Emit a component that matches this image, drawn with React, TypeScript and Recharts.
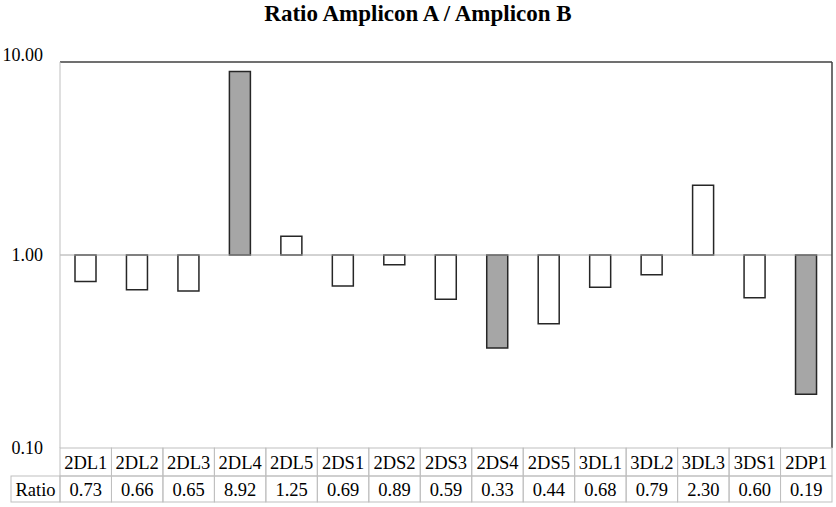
import React from 'react';
import {
  BarChart,
  Bar,
  XAxis,
  YAxis,
  Cell,
  ReferenceLine,
} from 'recharts';

const categories = [
  '2DL1', '2DL2', '2DL3', '2DL4', '2DL5', '2DS1', '2DS2', '2DS3',
  '2DS4', '2DS5', '3DL1', '3DL2', '3DL3', '3DS1', '2DP1',
];
const ratios = [
  0.73, 0.66, 0.65, 8.92, 1.25, 0.69, 0.89, 0.59,
  0.33, 0.44, 0.68, 0.79, 2.3, 0.6, 0.19,
];
const highlighted = ['2DL4', '2DS4', '2DP1'];
const yTicks = [0.1, 1, 10];

const data = categories.map((name, i) => ({ name, ratio: ratios[i] }));

const W = 836;
const H = 507;
const MARGIN = { top: 62, right: 3, left: 0, bottom: 5 };
const Y_AXIS_W = 60;
const Y_RIGHT_W = 1;
const X_AXIS_H = 54;
const FONT = 'Liberation Serif, serif';
const GRID = '#BFBFBF';
const DARK = '#404040';
const TEXT_SIZE = 18.5;

const cellW =
  (W - MARGIN.left - MARGIN.right - Y_AXIS_W - Y_RIGHT_W) / categories.length;
const ROW1 = 28;
const ROW2 = 26;
const LABEL_W = 49;

function TableTick(props: any) {
  const { x, y, payload, index } = props;
  const left = x - cellW / 2;
  const ratio = ratios[index];
  return (
    <g>
      <rect x={left} y={y} width={cellW} height={ROW1} fill="none" stroke={GRID} />
      <rect x={left} y={y + ROW1} width={cellW} height={ROW2} fill="none" stroke={GRID} />
      <text
        x={x}
        y={y + ROW1 / 2 + 1}
        textAnchor="middle"
        dominantBaseline="central"
        style={{ fontFamily: FONT }}
        fontSize={TEXT_SIZE}
        fill="#000"
      >
        {payload.value}
      </text>
      <text
        x={x}
        y={y + ROW1 + ROW2 / 2 + 1}
        textAnchor="middle"
        dominantBaseline="central"
        style={{ fontFamily: FONT }}
        fontSize={TEXT_SIZE}
        fill="#000"
      >
        {ratio.toFixed(2)}
      </text>
      {index === 0 && (
        <g>
          <rect x={left - LABEL_W} y={y + ROW1} width={LABEL_W} height={ROW2} fill="none" stroke={GRID} />
          <text
            x={left - LABEL_W / 2}
            y={y + ROW1 + ROW2 / 2 + 1}
            textAnchor="middle"
            dominantBaseline="central"
            style={{ fontFamily: FONT }}
            fontSize={TEXT_SIZE}
            fill="#000"
          >
            Ratio
          </text>
        </g>
      )}
    </g>
  );
}

// excel nudges the top label up so it stays inside the chart area
function YTick(props: any) {
  const { x, y, payload } = props;
  const nudge = payload.value >= 10 ? -7 : 0;
  return (
    <text
      x={x}
      y={y + nudge}
      textAnchor="end"
      dominantBaseline="central"
      style={{ fontFamily: FONT }}
      fontSize={18}
      fill="#000"
    >
      {Number(payload.value).toFixed(2)}
    </text>
  );
}

export default function App() {
  return (
    <div style={{ position: 'absolute', left: 0, top: 0, width: W, height: H, background: '#fff', fontFamily: FONT }}>
      <div
        style={{
          position: 'absolute',
          top: 1,
          left: 0,
          width: W,
          textAlign: 'center',
          fontFamily: FONT,
          fontWeight: 'bold',
          fontSize: 23,
          lineHeight: '26px',
          color: '#000',
        }}
      >
        Ratio Amplicon A / Amplicon B
      </div>
      <BarChart width={W} height={H} data={data} margin={MARGIN} barSize={21} style={{ fontFamily: FONT }}>
        <XAxis
          dataKey="name"
          interval={0}
          height={X_AXIS_H}
          axisLine={false}
          tickLine={false}
          tickSize={0}
          tickMargin={0}
          tick={<TableTick />}
        />
        <YAxis
          yAxisId="left"
          scale="log"
          domain={[0.1, 10]}
          ticks={yTicks}
          allowDataOverflow
          width={Y_AXIS_W}
          tickLine={false}
          tickSize={0}
          tickMargin={17}
          axisLine={{ stroke: GRID }}
          tick={<YTick />}
        />
        <YAxis
          yAxisId="right"
          orientation="right"
          scale="log"
          domain={[0.1, 10]}
          allowDataOverflow
          width={Y_RIGHT_W}
          tick={false}
          tickLine={false}
          axisLine={{ stroke: DARK, strokeWidth: 1.5 }}
        />
        <ReferenceLine yAxisId="left" y={10} stroke={DARK} strokeWidth={1.5} />
        <ReferenceLine yAxisId="left" y={1} stroke="#A6A6A6" />
        <Bar
          yAxisId="left"
          dataKey={(d: any) => [Math.min(1, d.ratio), Math.max(1, d.ratio)]}
          stroke="#262626"
          strokeWidth={1.5}
          isAnimationActive={false}
        >
          {data.map((d) => (
            <Cell key={d.name} fill={highlighted.includes(d.name) ? '#A6A6A6' : '#FFFFFF'} />
          ))}
        </Bar>
      </BarChart>
    </div>
  );
}
